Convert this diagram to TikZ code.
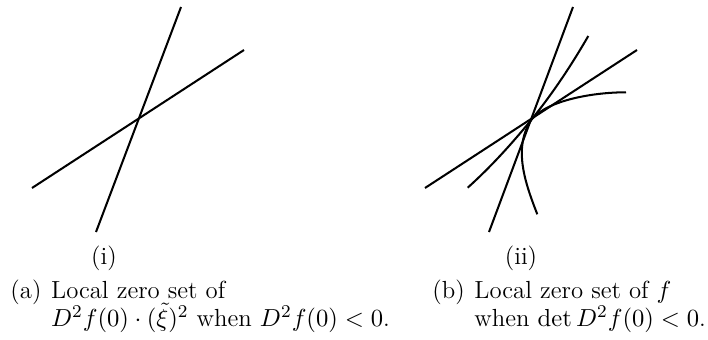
\documentclass[tikz,border=0pt]{standalone}
\begin{document}
\begin{tikzpicture}[x=0.4444pt,y=-0.4444pt,
  curve/.style={line width=0.9pt,black},
  captext/.style={inner sep=0pt,anchor=base west,font=\fontsize{11}{13}\selectfont},
  sublabel/.style={inner sep=0pt,anchor=base,font=\fontsize{11}{13}\selectfont}]
\useasboundingbox (0,0) rectangle (708,340);
% left figure
\coordinate (la1) at (32,188);
\coordinate (la2) at (244,50);
\coordinate (lb1) at (96,232);
\coordinate (lb2) at (181,7);
\draw[curve] (la1) -- (la2);
\draw[curve] (lb1) -- (lb2);
% right figure
\coordinate (ra1) at (425,188);
\coordinate (ra2) at (637,50);
\coordinate (rb1) at (489,232);
\coordinate (rb2) at (573,7);
\coordinate (rc) at (531.7,119.3);
\coordinate (c1a) at (467.7,187.7);
\coordinate (c1b) at (588.3,36);
\coordinate (c2a) at (537.3,214.3);
\coordinate (c2b) at (626,92.3);
\draw[curve] (ra1) -- (ra2);
\draw[curve] (rb1) -- (rb2);
\draw[curve] (c1a) .. controls (490.7,167) and (512.2,143.4) .. (rc)
  .. controls (552.5,93.7) and (571.8,64.6) .. (c1b);
\draw[curve] (c2a) .. controls (526,185) and (512,148) .. (rc)
  .. controls (547.8,100.2) and (593,92.3) .. (c2b);
% labels
\node[sublabel] (li) at (104,264) {(i)};
\node[sublabel] (lii) at (521,264) {(ii)};
% caption (a)
\node[captext] (capa) at (10,298) {(a)};
\node[captext] (capa1) at ([xshift=3.9pt]capa.base east) {Local zero set of};
\node[captext] (capa2) at ([yshift=-12.6pt]capa1.base west) {$D^2 f(0)\cdot(\smash{\tilde{\xi}})^2$ when $D^2 f(0)<0$.};
% caption (b)
\node[captext] (capb) at (432,298) {(b)};
\node[captext] (capb1) at ([xshift=3.9pt]capb.base east) {Local zero set of $f$};
\node[captext] (capb2) at ([yshift=-12.6pt]capb1.base west) {when $\det D^2 f(0)<0$.};
\end{tikzpicture}
\end{document}
